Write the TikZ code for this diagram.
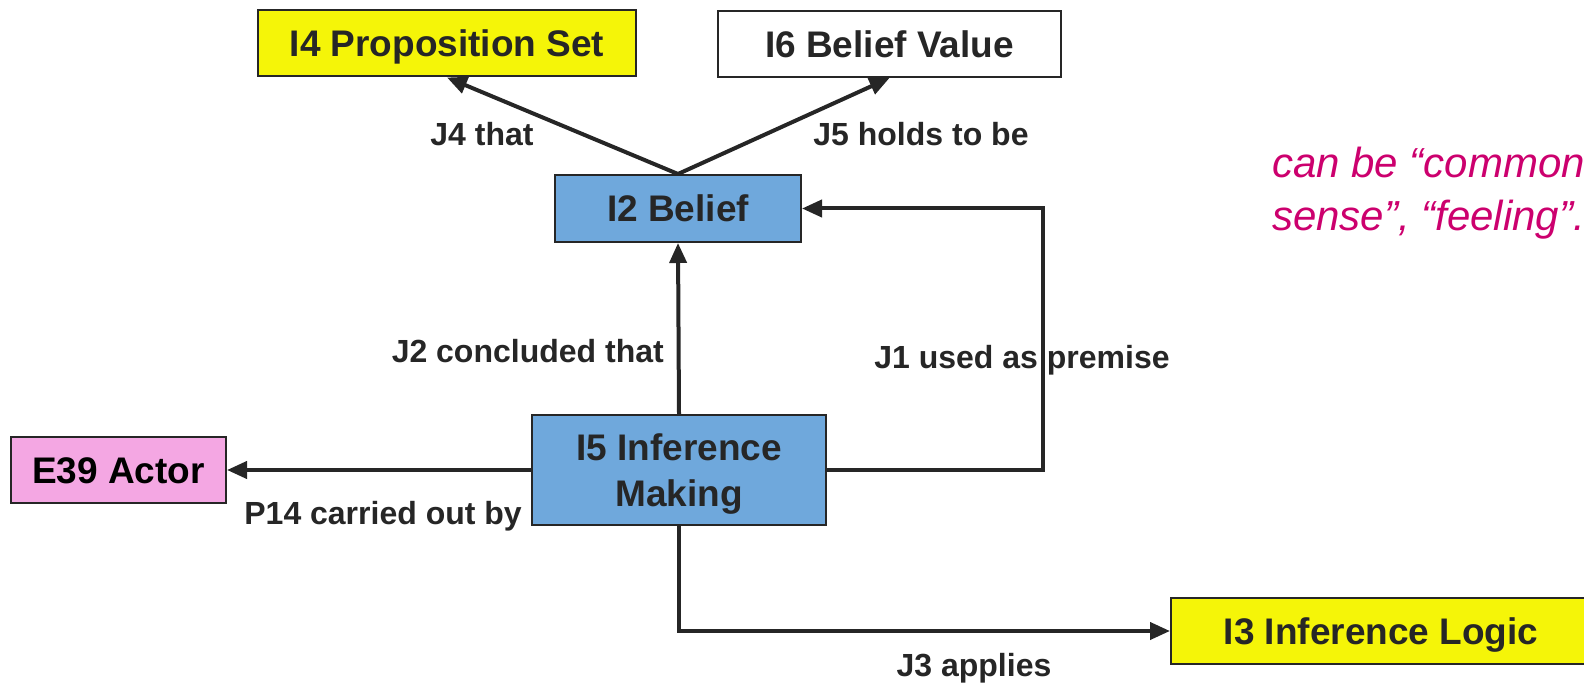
\documentclass[tikz,border=0pt]{standalone}
\usepackage{fontspec}
\setmainfont{Liberation Sans}
\usetikzlibrary{arrows.meta}
\definecolor{propyellow}{HTML}{F5F508}
\definecolor{beliefblue}{HTML}{6FA8DC}
\definecolor{actorpink}{HTML}{F4A7E3}
\definecolor{notemagenta}{HTML}{CC006E}
\definecolor{inkgray}{HTML}{262626}
\begin{document}
\begin{tikzpicture}[x=1pt,y=-1pt,
    box/.style={draw=inkgray, line width=2pt, minimum height=66pt, inner sep=0pt,
      text height=27pt, text depth=0pt,
      text=inkgray, font=\fontsize{37}{46}\selectfont\bfseries, align=center},
    rel/.style={draw=inkgray, line width=4pt, -{Triangle[length=20pt,width=17pt]}},
    lbl/.style={text=inkgray, font=\fontsize{32}{36}\selectfont\bfseries, inner sep=0pt}]
    \useasboundingbox (0,0) rectangle (1584,684);

    \node[box, fill=propyellow, minimum width=378pt] (I4) at (447,43.5) {I4 Proposition Set};
    \node[box, fill=white, minimum width=343pt] (I6) at (889.5,44) {I6 Belief Value};
    \node[box, fill=beliefblue, minimum width=246pt, minimum height=67pt] (I2) at (678,208.5) {I2 Belief};
    \node[box, fill=beliefblue, minimum width=294pt, minimum height=110pt,
      text height=73pt] (I5) at (679,470) {I5 Inference\\Making};
    \node[box, fill=actorpink, minimum width=215pt, text=black] (E39) at (118.5,470) {E39 Actor};
    \node[box, fill=propyellow, minimum width=420pt] (I3) at (1381,631) {I3 Inference Logic};

    \coordinate (j1bend) at (1043,0);

    \draw[rel] (I2.north) -- (I4.south);
    \draw[rel] (I2.north) -- (I6.south);
    \draw[rel] (I5.north) -- (I2.south);
    \draw[rel] (I5.east) -| (j1bend |- I2.east) -- (I2.east);
    \draw[rel] (I5.west) -- (E39.east);
    \draw[rel] (I5.south) |- (I3.west);

    \node[lbl] (J4) at (482,134) {J4 that};
    \node[lbl] (J5) at (921,134) {J5 holds to be};
    \node[lbl, anchor=east] (J2) at (664,351) {J2 concluded that};
    \node[lbl] (J1) at (1022,360) {J1 used as premise};
    \node[lbl, anchor=east] (P14) at (522,516) {P14 carried out by};
    \node[lbl] (J3) at (974,668) {J3 applies};

    \node[anchor=north west, align=left, inner sep=0pt, text=notemagenta,
      font=\fontsize{42}{53}\selectfont\itshape] (note) at (1272,147) {can be “common\\sense”, “feeling”.};
\end{tikzpicture}
\end{document}
